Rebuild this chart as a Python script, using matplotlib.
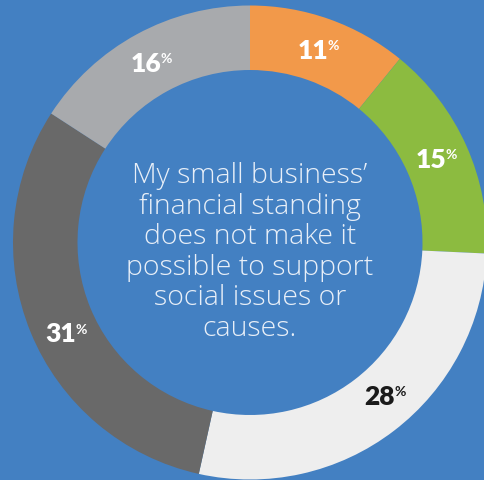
import matplotlib.pyplot as plt
import numpy as np

# Survey shares, clockwise from 12 o'clock
labels = ['11', '15', '28', '31', '16']
shares = [11, 15, 28, 31, 16]
colors = ['#F2994A', '#8CBB40', '#EEEEEE', '#696969', '#A8AAAD']
label_colors = ['white', 'white', '#1A1A1A', 'white', 'white']
# small angular nudges (degrees) for the value labels
label_nudge = [0, 0, -4, -4, 0]

question = ("My small business\u2019\nfinancial standing\ndoes not make it\n"
            "possible to support\nsocial issues or\ncauses.")

bg = '#4380C2'
W, H = 485, 481
cx, cy = 250, H - 243.5
r_out, r_in = 237, 172.5

fig = plt.figure(figsize=(W / 100, H / 100), dpi=100, facecolor=bg)
ax = fig.add_axes([0, 0, 1, 1])
ax.set_facecolor(bg)

ax.pie(shares, colors=colors, startangle=90, counterclock=False,
       center=(cx, cy), radius=r_out,
       wedgeprops=dict(width=r_out - r_in, linewidth=0))

# value labels at the middle of each ring segment
total = sum(shares)
r_mid = (r_out + r_in) / 2
start = 0
for lab, val, col, nudge in zip(labels, shares, label_colors, label_nudge):
    mid = (start + val / 2) / total * 360 + nudge
    start += val
    x = cx + r_mid * np.sin(np.radians(mid))
    y = cy + r_mid * np.cos(np.radians(mid))
    num = ax.text(x - 6, y, lab, ha='center', va='center', color=col,
                  fontsize=19, fontweight='heavy', family='Lato')
    ax.annotate('%', xy=(1, 1), xycoords=num, xytext=(-0.5, -1),
                textcoords='offset points', ha='left', va='top',
                color=col, fontsize=10, fontweight='bold', family='Lato')

ax.text(cx, cy - 9, question, ha='center', va='center', color='#E8EFF8',
        fontsize=20.5, fontweight='light', family='Open Sans', linespacing=1.12)

ax.set_xlim(0, W)
ax.set_ylim(0, H)
ax.set_aspect('auto')
ax.axis('off')

fig.savefig('out.png', dpi=100, facecolor=bg)
